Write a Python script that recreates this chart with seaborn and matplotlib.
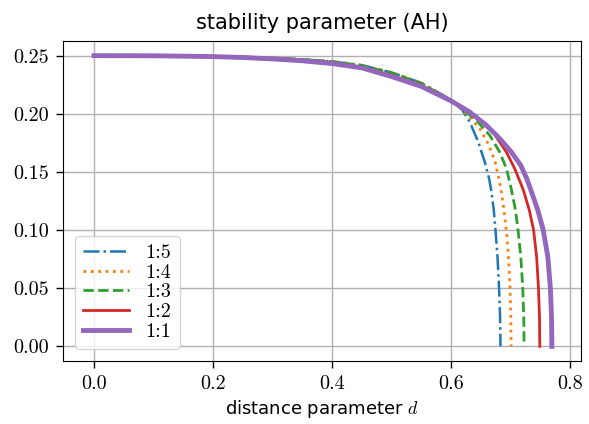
import numpy as np
import pandas as pd
import matplotlib
matplotlib.use('Agg')
import matplotlib.pyplot as plt
import seaborn as sns
from matplotlib.ticker import FuncFormatter


# Data (distance d, stability parameter)
labels = ['1:5', '1:4', '1:3', '1:2', '1:1']

d_15 = [0.0, 0.1, 0.2, 0.25, 0.3, 0.35, 0.4, 0.45, 0.5, 0.55, 0.6, 0.6172, 0.6311, 0.6455,
        0.6563, 0.6636, 0.6676, 0.6714, 0.6743, 0.6777, 0.6803, 0.6820, 0.6827]
y_15 = [0.25, 0.25, 0.2495, 0.2489, 0.2480, 0.2468, 0.2450, 0.2418, 0.2355, 0.2265, 0.2120, 0.2044, 0.1929, 0.1757,
        0.1585, 0.1442, 0.1327, 0.1173, 0.100, 0.0769, 0.0501, 0.0251, 0.0]

d_14 = [0.0, 0.1, 0.2, 0.25, 0.3, 0.35, 0.4, 0.45, 0.5, 0.55, 0.6, 0.6283, 0.648, 0.6619,
        0.6731, 0.6800, 0.6845, 0.6885, 0.6925, 0.6962, 0.6987, 0.7000, 0.7006]
y_14 = [0.25, 0.25, 0.2495, 0.2489, 0.2480, 0.2468, 0.2450, 0.2418, 0.2355, 0.2265, 0.2118, 0.1985, 0.1872, 0.1743,
        0.1600, 0.1442, 0.1320, 0.1173, 0.100, 0.0769, 0.0501, 0.0251, 0.0]

d_13 = [0.0, 0.1, 0.2, 0.25, 0.3, 0.35, 0.4, 0.45, 0.5, 0.55, 0.6, 0.6424, 0.6647, 0.6815,
        0.6927, 0.6995, 0.7011, 0.7078, 0.7122, 0.7168, 0.7201, 0.7218, 0.7223]
y_13 = [0.25, 0.25, 0.2495, 0.2489, 0.2479, 0.2467, 0.2448, 0.2415, 0.2350, 0.2260, 0.2115, 0.1943, 0.1814, 0.1670,
        0.1528, 0.1384, 0.1346, 0.1173, 0.100, 0.0769, 0.0501, 0.0251, 0.0]

d_12 = [0.0, 0.1, 0.2, 0.25, 0.3, 0.35, 0.4, 0.45, 0.5, 0.55, 0.6, 0.631, 0.6535, 0.670,
        0.6927, 0.7066, 0.718, 0.7210, 0.7310, 0.7383, 0.7434, 0.7465, 0.7482, 0.7487]
y_12 = [0.25, 0.2499, 0.2493, 0.2486, 0.2475, 0.2460, 0.2438, 0.2402, 0.2330, 0.2245, 0.2112, 0.2018, 0.1925, 0.1843,
        0.1670, 0.1528, 0.1384, 0.1346, 0.1173, 0.100, 0.0769, 0.0501, 0.0251, 0.0]

d_11 = [0.0, 0.1, 0.2, 0.25, 0.3, 0.35, 0.4, 0.45, 0.5, 0.55, 0.6, 0.631, 0.6592, 0.6815,
        0.7011, 0.7168, 0.7268, 0.7340, 0.7452, 0.7545, 0.7622, 0.7665, 0.7684, 0.7690]
y_11 = [0.25, 0.2499, 0.2492, 0.2484, 0.2472, 0.2456, 0.2432, 0.2395, 0.2320, 0.2235, 0.2110, 0.2015, 0.1900, 0.1786,
        0.1670, 0.1556, 0.1442, 0.1340, 0.1173, 0.100, 0.0769, 0.0501, 0.0251, 0.0]

curves = [(d_15, y_15), (d_14, y_14), (d_13, y_13), (d_12, y_12), (d_11, y_11)]
colors = ['#1f77b4', '#ff7f0e', '#2ca02c', '#d62728', '#9467bd']
styles = ['-.', ':', '--', '-', '-']
widths = [1.8, 2.0, 2.0, 2.0, 3.5]


plt.rcParams['mathtext.fontset'] = 'cm'
plt.rcParams['axes.formatter.use_mathtext'] = True

fig, ax = plt.subplots(figsize=(5.89, 4.24), dpi=100)
fig.subplots_adjust(left=0.107, right=0.986, top=0.903, bottom=0.149)

for (d, y), lab, c, ls, lw in zip(curves, labels, colors, styles, widths):
    df = pd.DataFrame({'d': d, 'y': y})
    sns.lineplot(data=df, x='d', y='y', ax=ax, color=c, linestyle=ls, lw=lw,
                 label=lab, estimator=None, sort=False)

ax.set_xlim(-0.052, 0.8175)
ax.set_ylim(-0.0125, 0.2625)
ax.set_xticks([0.0, 0.2, 0.4, 0.6, 0.8])
ax.set_yticks([0.0, 0.05, 0.10, 0.15, 0.20, 0.25])
ax.xaxis.set_major_formatter(FuncFormatter(lambda v, p: '%.1f' % v))
ax.yaxis.set_major_formatter(FuncFormatter(lambda v, p: '%.2f' % v))
for t in ax.get_xticklabels() + ax.get_yticklabels():
    t.set_fontfamily('cmr10')
    t.set_fontsize(14.5)
ax.tick_params(length=5, width=1, pad=5)
ax.grid(True, color='#b0b0b0', lw=1.0)

ax.set_title('stability parameter (AH)', fontsize=15, pad=9)
ax.set_xlabel('distance parameter $d$', fontsize=13)
ax.set_ylabel('')

ax.legend(loc='lower left', prop={'family': 'cmr10', 'size': 14.5},
          handlelength=2.3, labelspacing=0.08, borderaxespad=0.6)

plt.savefig('out.png', dpi=100)
